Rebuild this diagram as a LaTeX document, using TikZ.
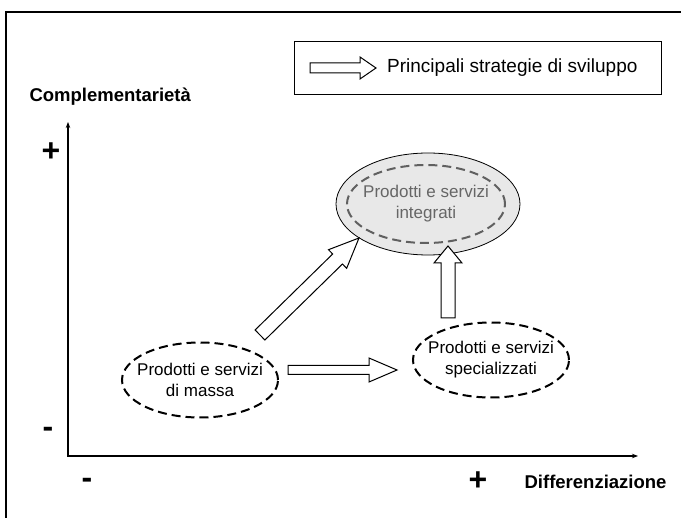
\documentclass[tikz,border=0pt]{standalone}
\usepackage{fontspec}
\setmainfont{Liberation Sans}
\usetikzlibrary{arrows.meta, positioning, calc, shapes.geometric}

% freccia a blocco: da, a, mezzo fusto, mezza punta, lunghezza punta
\newcommand{\frecciona}[5]{%
  \coordinate (fb) at ($(#2)!#5!(#1)$);
  \draw[frecciabox] ($(#1)!#3!90:(#2)$) -- ($(fb)!#3!-90:(#1)$) -- ($(fb)!#4!-90:(#1)$)
    -- (#2) -- ($(fb)!#4!90:(#1)$) -- ($(fb)!#3!90:(#1)$) -- ($(#1)!#3!-90:(#2)$) -- cycle;}

\begin{document}
\begin{tikzpicture}[x=1pt,y=-1pt,>={Stealth[length=6pt,width=4.5pt]}]
        \tikzstyle{bolla}=[ellipse,draw,line width=2pt,dash pattern=on 9pt off 5pt,inner sep=0pt,minimum width=156pt,minimum height=75pt]
        \tikzstyle{testo}=[align=center,font=\fontsize{17}{21}\selectfont]
        \tikzstyle{frecciabox}=[draw,fill=white,line width=1pt,line join=miter]
        \tikzstyle{asse}=[font=\fontsize{18.5}{22}\selectfont\bfseries]
        \tikzstyle{segno}=[font=\fontsize{32}{36}\selectfont\bfseries]
        \useasboundingbox (0,0) rectangle (681,518);
        \draw[line width=2pt] (681,12) -- (6,12) -- (6,518);
        % assi
        \coordinate (origine) at (68,456);
        \coordinate (ycima) at (68,122);
        \coordinate (xfine) at (638,456);
        \draw[<->,line width=1.2pt] (ycima) -- (origine) -- (xfine);
        \node[asse,anchor=base west] (ylab) at (26,102) {Complementarietà};
        \node[asse,anchor=base east] (xlab) at (670,489) {Differenziazione};
        \node[segno] (ypiu) at (51,152) {+};
        \node[segno] (ymeno) at (48,432) {-};
        \node[segno] (xmeno) at (87,483) {-};
        \node[segno] (xpiu) at (478,481) {+};
        % legenda
        \node[draw,line width=1pt,minimum width=367pt,minimum height=53pt] (legenda) at (477.5,68.5) {};
        \coordinate (lcoda) at (310,68);
        \coordinate (lpunta) at (376,68);
        \frecciona{lcoda}{lpunta}{5pt}{11pt}{16pt}
        \node[anchor=west,inner sep=0pt,font=\fontsize{19}{23}\selectfont] (ltesto) at (387,68) {Principali strategie di sviluppo};
        % ellissi
        \node[ellipse,draw,line width=0.8pt,fill=gray!18,minimum width=184pt,minimum height=102pt] (integ) at (428,204) {};
        \node[bolla,draw=gray!75!black,minimum width=158pt,minimum height=78pt,
              label={[testo,text=gray!80!black]center:Prodotti e servizi\\integrati}] (integin) at (426,204) {};
        \node[bolla,label={[testo]center:Prodotti e servizi\\di massa}] (massa) at (200,380) {};
        \node[bolla,label={[testo]center:Prodotti e servizi\\specializzati}] (spec) at (491,360) {};
        % strategie
        \coordinate (dcoda) at (260,335);
        \coordinate (dpunta) at (359,238);
        \coordinate (ocoda) at (288,370);
        \coordinate (opunta) at (397,370);
        \coordinate (vcoda) at (448,318);
        \coordinate (vpunta) at (448,246);
        \frecciona{dcoda}{dpunta}{7pt}{13pt}{30pt}
        \frecciona{ocoda}{opunta}{4.5pt}{12pt}{28pt}
        \frecciona{vcoda}{vpunta}{7pt}{14pt}{17pt}
    \end{tikzpicture}
\end{document}
